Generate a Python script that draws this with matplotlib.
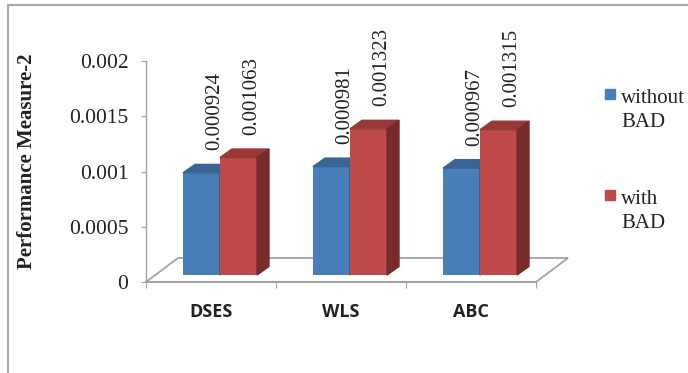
import matplotlib.pyplot as plt
from matplotlib.patches import Polygon, Rectangle
from matplotlib.lines import Line2D

categories = ["DSES", "WLS", "ABC"]
without_bad = [0.000924, 0.000981, 0.000967]
with_bad = [0.001063, 0.001323, 0.001315]
series_labels = ["without\nBAD", "with\nBAD"]
y_ticks = [0, 0.0005, 0.001, 0.0015, 0.002]
y_tick_labels = ["0", "0.0005", "0.001", "0.0015", "0.002"]

W, H = 688, 373
fig = plt.figure(figsize=(W / 100, H / 100), dpi=100)
ax = fig.add_axes([146 / W, (H - 282) / H, 390 / W, 221 / H])
ax.set_xlim(-0.5, 2.5)
ax.set_ylim(0, 0.002)
ax.patch.set_visible(False)

# size of one pixel in data units
px = 3 / 390
py = 0.002 / 221

grey = '#a3a3a3'
txt = '#222222'
serif = 'Liberation Serif'

# floor of the 3d box
fdx, fdy = 32 * px, 24 * py
floor = Polygon([(-0.5, 0), (2.5, 0), (2.5 + fdx, fdy), (-0.5 + fdx, fdy)],
                closed=True, facecolor='white', edgecolor=grey, lw=1.3,
                clip_on=False, zorder=1)
ax.add_patch(floor)

bw = 37 * px          # bar width
shift = 9 * px        # bars sit a bit back in depth
base = 7 * py
ddx, ddy = 12 * px, 8.5 * py   # bar depth

# front, top, side
colors = [('#4a7ebb', '#3a6494', '#2f5178'),
          ('#be4b48', '#963a38', '#772c2b')]

for s, vals in enumerate([without_bad, with_bad]):
    front, top, side = colors[s]
    z = 2 + s
    xs = [i + shift - bw + s * bw for i in range(len(categories))]
    ax.bar(xs, vals, width=bw, bottom=base, align='edge', color=front,
           zorder=z, clip_on=False)
    for x0, v in zip(xs, vals):
        y1 = base + v
        ax.add_patch(Polygon([(x0, y1), (x0 + bw, y1), (x0 + bw + ddx, y1 + ddy),
                              (x0 + ddx, y1 + ddy)], closed=True, color=top,
                             zorder=z, clip_on=False))
        ax.add_patch(Polygon([(x0 + bw, base), (x0 + bw + ddx, base + ddy),
                              (x0 + bw + ddx, y1 + ddy), (x0 + bw, y1)],
                             closed=True, color=side, zorder=z, clip_on=False))
        ax.text(x0 + bw / 2 + ddx + 1 * px, y1 + ddy + 14 * py, f"{v:.6f}",
                rotation=90, ha='center', va='bottom', family=serif,
                fontsize=15, color=txt, zorder=5)

# axes look
for sp in ['top', 'right']:
    ax.spines[sp].set_visible(False)
ax.spines['left'].set_color(grey)
ax.spines['bottom'].set_color(grey)
ax.spines['left'].set_linewidth(1.0)
ax.spines['bottom'].set_linewidth(1.3)

ax.set_yticks(y_ticks, y_tick_labels)
ax.tick_params(axis='y', length=3.6, width=0.8, color=grey, pad=9,
               labelsize=15.5, labelcolor=txt)
for lab in ax.get_yticklabels():
    lab.set_family(serif)

ax.set_xticks([-0.5, 0.5, 1.5, 2.5])
ax.set_xticklabels([])
ax.tick_params(axis='x', which='major', length=4.3, width=0.8, color=grey)
ax.set_xticks([0, 1, 2], minor=True)
ax.set_xticklabels(categories, minor=True, family='Open Sans',
                   fontweight='bold', fontsize=13, color=txt)
ax.tick_params(axis='x', which='minor', length=0, pad=15)

fig.text(27 / W, 1 - 161 / H, "Performance Measure-2", rotation=90,
         ha='center', va='center', family=serif, fontweight='bold',
         fontsize=15, color=txt)

# legend
for j, lab in enumerate(series_labels):
    ytop = 89 + j * 101
    fig.patches.append(Rectangle((605 / W, 1 - (ytop + 10) / H), 10 / W, 10 / H,
                                 transform=fig.transFigure,
                                 color=colors[j][0]))
    fig.text(621 / W, 1 - ytop / H, lab, ha='left', va='top', family=serif,
             fontsize=15, color=txt, linespacing=1.37)

# chart border (cut off at right and bottom)
fig.add_artist(Line2D([8 / W, 8 / W], [0, 1 - 5 / H], color='#a8a8a8', lw=1.5))
fig.add_artist(Line2D([8 / W, 1], [1 - 5 / H, 1 - 5 / H], color='#a8a8a8', lw=1.5))

fig.savefig('out.png', dpi=100)
